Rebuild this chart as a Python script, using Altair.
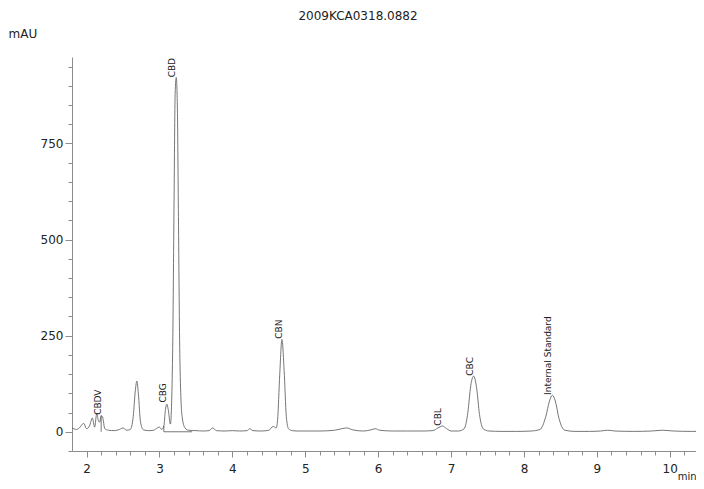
import altair as alt
import pandas as pd
import numpy as np

# Retention time (min) and detector signal (mAU)
times = [1.80, 1.86, 1.90, 1.96, 2.00, 2.04, 2.08, 2.11, 2.14, 2.16, 2.18, 2.20, 2.22, 2.25,
         2.30, 2.38, 2.45, 2.50, 2.55, 2.60, 2.64, 2.67, 2.69, 2.71, 2.74, 2.78, 2.85, 2.92,
         2.97, 3.00, 3.03, 3.06, 3.08, 3.10, 3.12, 3.15, 3.18, 3.20, 3.215, 3.23, 3.245, 3.26,
         3.28, 3.31, 3.35, 3.40, 3.50, 3.60, 3.68, 3.73, 3.78, 3.90, 4.00, 4.10, 4.20, 4.24,
         4.28, 4.40, 4.50, 4.56, 4.60, 4.62, 4.65, 4.68, 4.71, 4.74, 4.77, 4.82, 4.90, 5.00,
         5.20, 5.40, 5.50, 5.57, 5.65, 5.80, 5.90, 5.96, 6.02, 6.20, 6.40, 6.60, 6.75, 6.82,
         6.88, 6.94, 7.00, 7.10, 7.18, 7.23, 7.27, 7.31, 7.35, 7.39, 7.44, 7.52, 7.70, 7.90,
         8.10, 8.22, 8.30, 8.35, 8.39, 8.43, 8.48, 8.56, 8.70, 8.90, 9.05, 9.15, 9.25, 9.50,
         9.75, 9.90, 10.05, 10.30, 10.47]
signal = [10, 6, 10, 22, 8, 15, 36, 12, 48, 30, 25, 42, 38, 8,
          4, 3, 6, 10, 4, 6, 40, 110, 132, 100, 25, 5, 3, 4,
          10, 12, 6, 15, 55, 72, 58, 20, 200, 600, 880, 922, 850, 560,
          190, 40, 10, 4, 3, 2, 3, 10, 3, 2, 3, 2, 3, 8,
          3, 2, 4, 14, 10, 30, 150, 240, 160, 40, 8, 3, 2, 2,
          2, 4, 8, 10, 5, 2, 5, 8, 4, 2, 2, 2, 3, 10,
          15, 8, 2, 2, 8, 50, 120, 145, 115, 45, 8, 2, 1, 1,
          2, 6, 40, 80, 95, 80, 35, 4, 1, 1, 2, 4, 2, 1,
          2, 4, 2, 1, 1]

peak_names = ["CBDV", "CBG", "CBD", "CBN", "CBL", "CBC", "Internal Standard"]
peak_times = [2.21, 3.10, 3.23, 4.69, 6.88, 7.31, 8.39]
peak_tops = [44, 76, 922, 242, 16, 146, 96]

drop_times = [2.20, 3.06]
drop_tops = [42, 15]
base_start = [3.06]
base_end = [3.45]
base_level = [0]

x_ticks = np.round(np.arange(2.0, 10.35, 0.2), 1).tolist()
y_ticks = list(range(-50, 951, 50))

sig = pd.DataFrame({"t": times, "v": signal})
peaks = pd.DataFrame({"name": peak_names, "t": peak_times, "v": peak_tops})
drops = pd.DataFrame({"t": drop_times, "v0": [0] * len(drop_times), "v": drop_tops})
base = pd.DataFrame({"t": base_start, "t2": base_end, "v": base_level})

W, H = 624, 394
FONT = "DejaVu Sans"
AX = "#8c8c8c"

xscale = alt.Scale(domain=[1.8, 10.36], nice=False, zero=False)
yscale = alt.Scale(domain=[-50, 975], nice=False, zero=False)

xaxis = alt.Axis(
    values=x_ticks, tickCount=200,
    labelExpr="datum.value % 1 === 0 ? format(datum.value, 'd') : ''",
    tickSize={"condition": {"test": "datum.value % 1 === 0", "value": 6}, "value": 4},
    labelOverlap=False,
    grid=False, domainColor=AX, tickColor=AX, labelColor="#222",
    labelFont=FONT, labelFontSize=12, labelPadding=6,
    title="min", titleFont=FONT, titleFontSize=10, titleFontWeight="normal",
    titleColor="#222", titleX=624, titleY=28, titleAlign="right",
    titleBaseline="alphabetic", titleAnchor="end",
)
yaxis = alt.Axis(
    values=y_ticks, tickCount=200,
    labelExpr="datum.value % 250 === 0 ? format(datum.value, 'd') : ''",
    tickSize={"condition": {"test": "datum.value % 250 === 0", "value": 7}, "value": 4},
    labelOverlap=False,
    grid=False, domainColor=AX, tickColor=AX, labelColor="#222",
    labelFont=FONT, labelFontSize=12, labelPadding=2,
    title="mAU", titleFont=FONT, titleFontSize=12, titleFontWeight="normal",
    titleColor="#222", titleAngle=0, titleX=-64, titleY=-24,
    titleAlign="left", titleBaseline="middle", titleAnchor="start",
)

line = alt.Chart(sig).mark_line(
    color="#666666", strokeWidth=0.9, interpolate="monotone", clip=True
).encode(
    x=alt.X("t:Q", scale=xscale, axis=xaxis),
    y=alt.Y("v:Q", scale=yscale, axis=yaxis),
)

drop_rules = alt.Chart(drops).mark_rule(color="#555555", strokeWidth=0.8).encode(
    x=alt.X("t:Q", scale=xscale),
    y=alt.Y("v0:Q", scale=yscale),
    y2="v:Q",
)

base_rule = alt.Chart(base).mark_rule(color="#555555", strokeWidth=0.8).encode(
    x=alt.X("t:Q", scale=xscale),
    x2="t2:Q",
    y=alt.Y("v:Q", scale=yscale),
)

labels = alt.Chart(peaks).mark_text(
    angle=270, align="left", baseline="middle", dy=-4,
    font=FONT, fontSize=9, color="#222"
).encode(
    x=alt.X("t:Q", scale=xscale),
    y=alt.Y("v:Q", scale=yscale),
    text="name:N",
)

chart = alt.layer(line, drop_rules, base_rule, labels).properties(
    width=W, height=H,
    autosize=alt.AutoSizeParams(type="none"),
    padding={"left": 64, "top": 49, "right": 0, "bottom": 30},
    title=alt.TitleParams(
        "2009KCA0318.0882", font=FONT, fontSize=12, fontWeight="normal",
        color="#222", anchor="middle", offset=4, dx=-26,
    ),
).configure_view(stroke=None)

chart.save("out.html", embed_options={"renderer": "svg", "actions": False})
